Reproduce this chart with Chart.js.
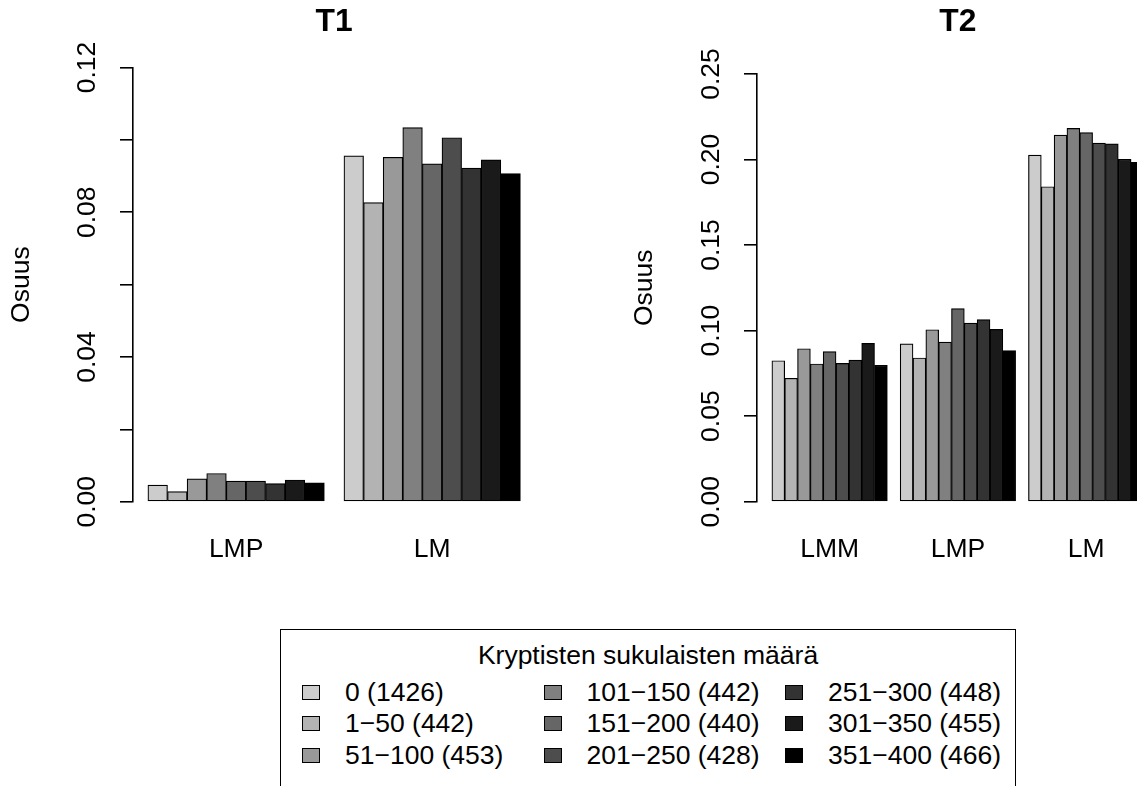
<!DOCTYPE html>
<html>
<head>
<meta charset="utf-8">
<script src="https://cdn.jsdelivr.net/npm/chart.js@4.4.1/dist/chart.umd.min.js"></script>
<style>
  html, body { margin: 0; padding: 0; background: #fff; overflow: hidden; width: 1137px; height: 786px; }
  body { position: relative; font-family: 'Liberation Sans', Arial, sans-serif; color: #000; }
  canvas { position: absolute; top: 0; }
  #c1 { left: 0; }
  #c2 { left: 580px; }
  #legend { position: absolute; left: 280px; top: 629px; width: 736px; height: 220px;
            border: 1.5px solid #000; border-bottom: none; box-sizing: border-box; }
  #legendTitle { position: absolute; left: 0; right: 0; top: 10px; text-align: center;
                 font-size: 26.5px; line-height: 30px; }
  .item { position: absolute; height: 30px; display: flex; align-items: center;
          font-size: 26.5px; white-space: nowrap; }
  .box { width: 16px; height: 13px; border: 1.5px solid #000; margin-right: 25px; }
</style>
</head>
<body>
<canvas id="c1" width="560" height="600"></canvas>
<canvas id="c2" width="620" height="600"></canvas>
<div id="legend"><div id="legendTitle"></div></div>
<script>
// series: number of cryptic relatives (group size)
const ranges = ['0', '1−50', '51−100', '101−150', '151−200', '201−250', '251−300', '301−350', '351−400'];
const counts = [1426, 442, 453, 442, 440, 428, 448, 455, 466];
const greys = ['#CCCCCC', '#B3B3B3', '#999999', '#808080', '#666666', '#4D4D4D', '#333333', '#1A1A1A', '#000000'];
const legendTitle = 'Kryptisten sukulaisten määrä';

// T1
const t1Groups = ['LMP', 'LM'];
const t1LMP = [0.0046, 0.0028, 0.0063, 0.0078, 0.0057, 0.0057, 0.0050, 0.0060, 0.0052];
const t1LM = [0.0956, 0.0827, 0.0952, 0.1034, 0.0934, 0.1006, 0.0922, 0.0945, 0.0907];
const t1Ticks = [0, 0.02, 0.04, 0.06, 0.08, 0.10, 0.12];
const t1TickLabels = ['0.00', '', '0.04', '', '0.08', '', '0.12'];

// T2
const t2Groups = ['LMM', 'LMP', 'LM'];
const t2LMM = [0.0824, 0.0721, 0.0894, 0.0805, 0.0877, 0.0808, 0.0828, 0.0925, 0.0797];
const t2LMP = [0.0922, 0.0840, 0.1005, 0.0933, 0.1128, 0.1044, 0.1064, 0.1007, 0.0883];
const t2LM = [0.2026, 0.1841, 0.2143, 0.2182, 0.2157, 0.2096, 0.2092, 0.2001, 0.1984];
const t2Ticks = [0, 0.05, 0.10, 0.15, 0.20, 0.25];
const t2TickLabels = ['0.00', '0.05', '0.10', '0.15', '0.20', '0.25'];

const FONT = "'Liberation Sans', Arial, sans-serif";

// barplot(beside=TRUE) layout: one empty bar slot before each group, 4% margin on both sides
function makePanel(id, title, groups, values, ticks, tickLabels, geo) {
  const n = groups.length;
  const lo = 1, hi = n * 10;
  const ext = 0.04 * (hi - lo);

  const datasets = ranges.map((r, i) => ({
    label: r + ' (' + counts[i] + ')',
    data: groups.map((g, gi) => ({ x: lo + gi * 10 + i + 0.5, y: values[gi][i] })),
    backgroundColor: greys[i],
    borderColor: '#000',
    borderWidth: 1.2,
    borderSkipped: false,
    grouped: false,
    barPercentage: 1,
    categoryPercentage: 1
  }));

  return new Chart(document.getElementById(id), {
    type: 'bar',
    data: { datasets },
    options: {
      responsive: false,
      animation: false,
      events: [],
      layout: { padding: { left: 0, right: geo.rightPad, top: 0, bottom: 0 } },
      plugins: {
        legend: { display: false },
        tooltip: { enabled: false },
        title: {
          display: true,
          text: title,
          color: '#000',
          fullSize: false,
          font: { family: FONT, size: 31.8, weight: 'bold', lineHeight: 1.2 },
          padding: { top: 3.4, bottom: geo.titleBottom }
        }
      },
      scales: {
        x: {
          type: 'linear',
          offset: false,
          bounds: 'data',
          min: lo - ext,
          max: hi + ext,
          afterBuildTicks: s => { s.ticks = groups.map((g, gi) => ({ value: lo + gi * 10 + 4.5 })); },
          afterFit: s => { s.height = geo.xAxisHeight; },
          grid: { display: false, offset: false, drawTicks: false, tickLength: 0 },
          border: { display: false },
          ticks: {
            autoSkip: false,
            maxRotation: 0,
            padding: 32.4,
            color: '#000',
            font: { family: FONT, size: 26.5 },
            callback: (v, i) => groups[i]
          }
        },
        y: {
          type: 'linear',
          bounds: 'data',
          min: 0,
          max: ticks[ticks.length - 1],
          afterBuildTicks: s => { s.ticks = ticks.map(v => ({ value: v })); },
          afterFit: s => { s.width = geo.yAxisWidth; },
          grid: { drawOnChartArea: false, drawTicks: true, tickLength: 13, color: '#000', lineWidth: 1.6 },
          border: { display: true, color: '#000', width: 1.6 },
          title: {
            display: true,
            text: 'Osuus',
            color: '#000',
            font: { family: FONT, size: 26.5, lineHeight: 1.2 },
            padding: { top: geo.ylabPad, bottom: 0 }
          },
          ticks: {
            autoSkip: false,
            minRotation: 90,
            maxRotation: 90,
            crossAlign: 'center',
            padding: 7,
            color: '#000',
            font: { family: FONT, size: 26.5 },
            callback: (v, i) => tickLabels[i]
          }
        }
      }
    }
  });
}

makePanel('c1', 'T1', t1Groups, [t1LMP, t1LM], t1Ticks, t1TickLabels,
  { yAxisWidth: 133, rightPad: 24.7, xAxisHeight: 98.3, titleBottom: 26, ylabPad: 5.6 });
makePanel('c2', 'T2', t2Groups, [t2LMM, t2LMP, t2LM], t2Ticks, t2TickLabels,
  { yAxisWidth: 177, rightPad: 41.2, xAxisHeight: 98.3, titleBottom: 32.4, ylabPad: 49.1 });

// legend, filled column by column like R's legend(ncol = 3)
const legend = document.getElementById('legend');
document.getElementById('legendTitle').textContent = legendTitle;
ranges.forEach((r, i) => {
  const col = Math.floor(i / 3), row = i % 3;
  const el = document.createElement('div');
  el.className = 'item';
  el.style.left = (21 + col * 241.5) + 'px';
  el.style.top = (47 + row * 31.5) + 'px';
  const box = document.createElement('span');
  box.className = 'box';
  box.style.background = greys[i];
  const txt = document.createElement('span');
  txt.textContent = r + ' (' + counts[i] + ')';
  el.appendChild(box);
  el.appendChild(txt);
  legend.appendChild(el);
});
</script>
</body>
</html>
